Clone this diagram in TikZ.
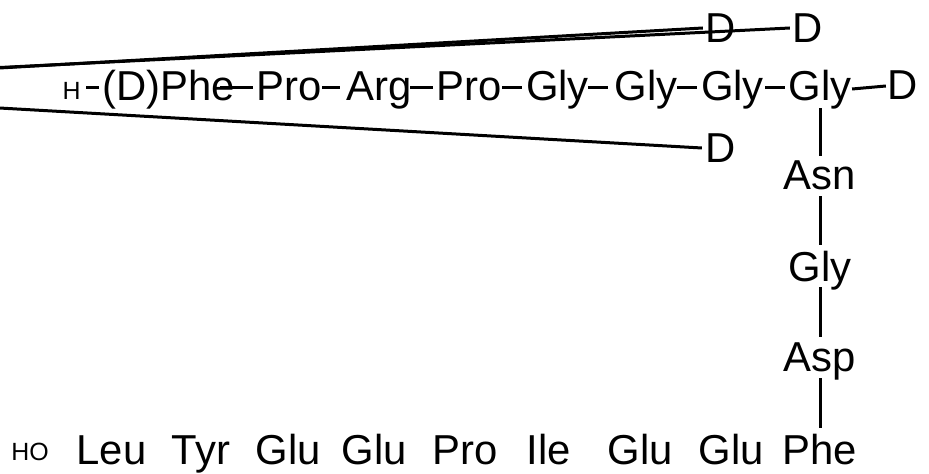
\documentclass[tikz,border=0pt]{standalone}
\usepackage{fontspec}
\setmainfont{Liberation Sans}
\begin{document}
\begin{tikzpicture}[x=1bp,y=-1bp,
  aa/.style={inner sep=0pt, anchor=base, text height=26bp, text depth=0pt, font=\fontsize{42}{50}\selectfont},
  sm/.style={aa, text height=24bp, font=\fontsize{25}{30}\selectfont},
  bond/.style={line width=3bp}]
\useasboundingbox (0,0) rectangle (929,474);
% top row
\node[sm] (h) at (71.5,100) {H};
\node[aa] (phe) at (169,101) {(D)Phe};
\node[aa] (pro1) at (289,101) {Pro};
\node[aa] (arg) at (379.5,101) {Arg};
\node[aa] (pro2) at (469,101) {Pro};
\node[aa] (gly1) at (557.5,101) {Gly};
\node[aa] (gly2) at (646,101) {Gly};
\node[aa] (gly3) at (732.5,101) {Gly};
\node[aa] (gly4) at (820,101) {Gly};
\node[aa] (dr) at (903,100) {D};
\node[aa] (d1) at (721,43) {D};
\node[aa] (d2) at (808,43) {D};
\node[aa] (d3) at (720.5,163) {D};
% vertical chain
\node[aa] (asn) at (820,190) {Asn};
\node[aa] (glyv) at (820,282) {Gly};
\node[aa] (asp) at (820,372) {Asp};
% bottom row
\node[sm] (ho) at (30,460) {HO};
\node[aa] (leu) at (111.5,464) {Leu};
\node[aa] (tyr) at (201,464) {Tyr};
\node[aa] (glu1) at (288,464) {Glu};
\node[aa] (glu2) at (374,464) {Glu};
\node[aa] (pro3) at (465,464) {Pro};
\node[aa] (ile) at (549,464) {Ile};
\node[aa] (glu3) at (640.5,464) {Glu};
\node[aa] (glu4) at (731.5,464) {Glu};
\node[aa] (pheb) at (820,464) {Phe};
% free ends of the long lines
\coordinate (l1) at (-20,69.1);
\coordinate (l2) at (-20,68.5);
\coordinate (l3) at (-20,106.9);
% top row bonds
\draw[bond] ([xshift=5.5bp]h.east) -- ([xshift=-3.5bp]phe.west);
\draw[bond] ([xshift=-15.5bp]phe.east) -- ([xshift=-3.3bp]pro1.west);
\draw[bond] ([xshift=0.3bp]pro1.east) -- ([xshift=-6.8bp]arg.west);
\draw[bond] ([xshift=-2.2bp]arg.east) -- ([xshift=-3.3bp]pro2.west);
\draw[bond] ([xshift=0.3bp]pro2.east) -- ([xshift=-4bp]gly1.west);
\draw[bond] ([xshift=-1bp]gly1.east) -- ([xshift=-6.5bp]gly2.west);
\draw[bond] ([xshift=-0.5bp]gly2.east) -- ([xshift=-4bp]gly3.west);
\draw[bond] ([xshift=1bp]gly3.east) -- ([xshift=-3.5bp]gly4.west);
\draw[bond] ([xshift=0.5bp,yshift=-1bp]gly4.east) -- ([xshift=-1.8bp,yshift=1bp]dr.west);
% long lines
\draw[bond] (l1) -- ([xshift=-2.8bp,yshift=2bp]d1.west);
\draw[bond] (l2) -- ([xshift=-2.8bp,yshift=2bp]d2.west);
\draw[bond] (l3) -- ([xshift=-3.3bp,yshift=2bp]d3.west);
% vertical bonds
\draw[bond] ([yshift=-7bp]gly4.south) -- ([yshift=8bp]asn.north);
\draw[bond] ([yshift=-6bp]asn.south) -- ([yshift=11bp]glyv.north);
\draw[bond] ([yshift=-5bp]glyv.south) -- ([yshift=9bp]asp.north);
\draw[bond] ([yshift=-6bp]asp.south) -- ([yshift=10bp]pheb.north);
\end{tikzpicture}
\end{document}
